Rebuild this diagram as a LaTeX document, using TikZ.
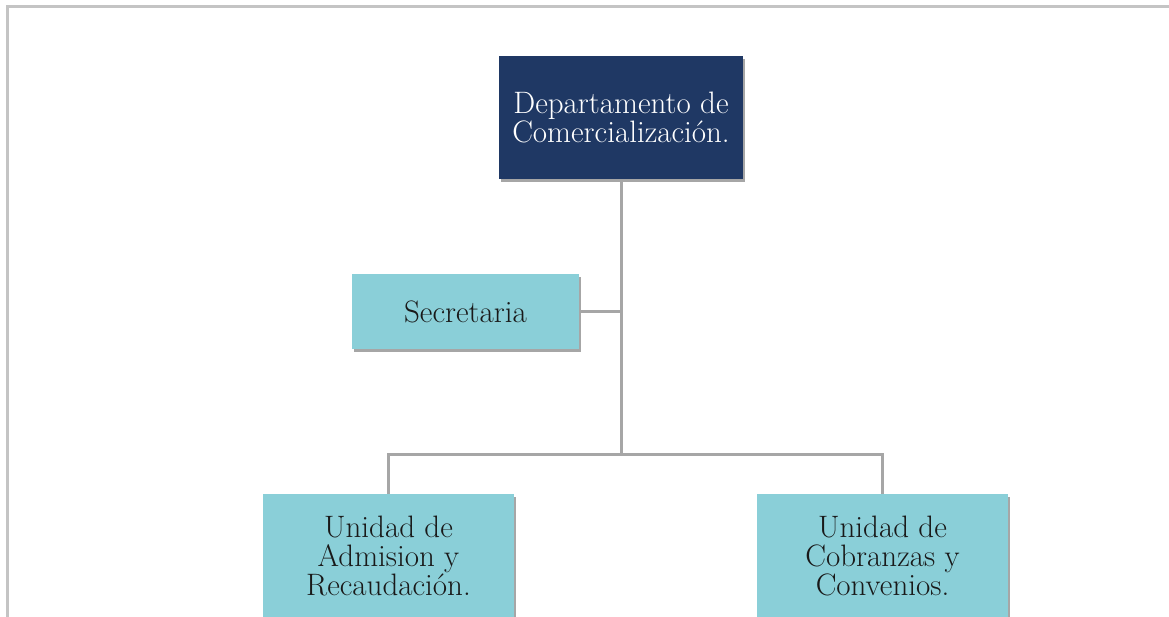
\documentclass[tikz,border=0pt]{standalone}
\usetikzlibrary{shadows}
\definecolor{navybox}{HTML}{1F3864}
\definecolor{cyanbox}{HTML}{8ACFD8}
\definecolor{linkgray}{HTML}{A6A6A6}
\definecolor{framegray}{HTML}{C4C4C4}

\begin{document}
\begin{tikzpicture}[x=1pt,y=1pt,
  boxstyle/.style={rectangle,align=center,font=\fontsize{31}{29}\selectfont,
    drop shadow={shadow xshift=2pt,shadow yshift=-3pt,opacity=0.35,fill=black}},
  headstyle/.style={boxstyle,fill=navybox,text=white,minimum width=244pt,minimum height=123pt},
  unitstyle/.style={boxstyle,fill=cyanbox,text=black!90},
  link/.style={draw=linkgray,line width=3pt}]

  \useasboundingbox (0,0) rectangle (1169,616);
  \clip (0,0) rectangle (1169,616);
  \draw[framegray,line width=3pt] (7,-5) -- (7,609) -- (1175,609);

  \node [headstyle] (head) at (621, 498.5) {Departamento de\\Comercialización.};
  \node [unitstyle, minimum width=227pt, minimum height=75pt] (sec) at (465.5, 304.5) {Secretaria};
  \node [unitstyle, minimum width=251pt, minimum height=124pt] (adm) at (388.5, 60) {Unidad de\\Admision y\\Recaudación.};
  \node [unitstyle, minimum width=251pt, minimum height=124pt] (cob) at (882.5, 60) {Unidad de\\Cobranzas y\\Convenios.};

  \coordinate (bus) at (head.south |- 0,162);
  \draw[link] (head.south) -- (bus);
  \draw[link] (sec.east) -- (sec.east -| head.south);
  \draw[link] (adm.north) |- (bus) -| (cob.north);

\end{tikzpicture}
\end{document}
